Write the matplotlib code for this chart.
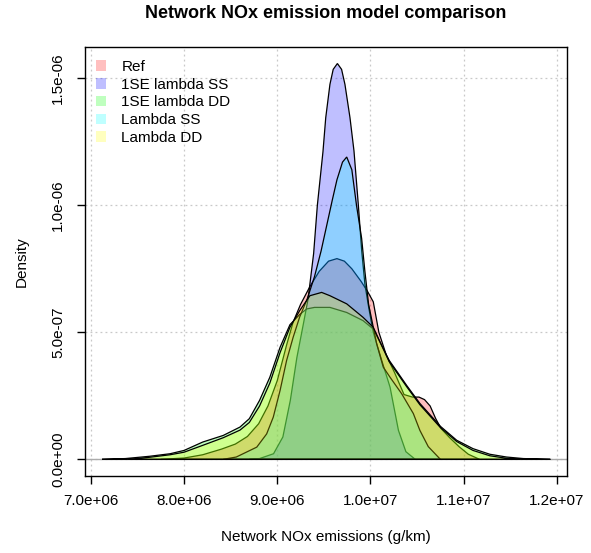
import matplotlib
matplotlib.use('AGG')

import numpy as np
import matplotlib.pyplot as plt
from matplotlib.patches import Patch

plt.rcParams['font.family'] = ['Liberation Sans', 'DejaVu Sans']

# density curves: x in 1e6 g/km, y in 1e-6
ref_x = [7.75, 8.0, 8.2, 8.4, 8.55, 8.68, 8.8, 8.9, 9.0, 9.1, 9.17, 9.25, 9.35, 9.45,
         9.55, 9.64, 9.72, 9.8, 9.9, 9.97, 10.03, 10.09, 10.17, 10.26, 10.36, 10.45,
         10.52, 10.58, 10.64, 10.7, 10.76, 10.85, 10.95, 11.05, 11.17]
ref_y = [0.0, 0.005, 0.018, 0.04, 0.06, 0.09, 0.14, 0.21, 0.31, 0.45, 0.54, 0.61, 0.68, 0.74,
         0.78, 0.79, 0.78, 0.75, 0.70, 0.66, 0.62, 0.50, 0.41, 0.34, 0.255, 0.245,
         0.245, 0.235, 0.21, 0.16, 0.12, 0.085, 0.05, 0.02, 0.0]

ss1_x = [8.70, 8.81, 8.96, 9.06, 9.14, 9.21, 9.28, 9.33, 9.39, 9.43, 9.49, 9.52, 9.565,
         9.60, 9.645, 9.69, 9.726, 9.78, 9.823, 9.87, 9.906, 9.94, 9.98, 10.03, 10.12,
         10.21, 10.30, 10.38, 10.48]
ss1_y = [0.0, 0.003, 0.022, 0.088, 0.232, 0.40, 0.533, 0.63, 0.81, 1.0, 1.21, 1.345, 1.476,
         1.535, 1.558, 1.535, 1.476, 1.345, 1.214, 1.0, 0.82, 0.69, 0.60, 0.50, 0.39,
         0.284, 0.114, 0.03, 0.0]

dd1_x = [7.12, 7.37, 7.63, 7.85, 8.0, 8.2, 8.42, 8.6, 8.7, 8.81, 8.92, 9.03, 9.136, 9.24,
         9.316, 9.40, 9.50, 9.565, 9.745, 9.92, 10.03, 10.2, 10.39, 10.53, 10.75, 10.925,
         11.10, 11.28, 11.46, 11.64, 11.93]
dd1_y = [0.0, 0.003, 0.012, 0.022, 0.035, 0.068, 0.094, 0.127, 0.16, 0.232, 0.323, 0.441,
         0.53, 0.57, 0.592, 0.598, 0.598, 0.598, 0.578, 0.546, 0.513, 0.39, 0.29, 0.22,
         0.13, 0.075, 0.042, 0.02, 0.009, 0.003, 0.0]

ss_x = [8.42, 8.56, 8.78, 8.886, 8.957, 9.03, 9.10, 9.17, 9.24, 9.32, 9.40, 9.47, 9.53,
        9.59, 9.64, 9.70, 9.745, 9.80, 9.85, 9.905, 9.94, 9.98, 10.03, 10.066, 10.137,
        10.21, 10.335, 10.46, 10.53, 10.62, 10.75]
ss_y = [0.0, 0.009, 0.048, 0.10, 0.166, 0.271, 0.389, 0.48, 0.56, 0.63, 0.72, 0.82, 0.92,
        1.02, 1.10, 1.17, 1.19, 1.14, 1.0, 0.87, 0.74, 0.61, 0.52, 0.455, 0.363,
        0.323, 0.258, 0.18, 0.114, 0.05, 0.0]

dd_x = [7.40, 7.63, 7.85, 8.0, 8.2, 8.42, 8.6, 8.7, 8.81, 8.92, 9.03, 9.136, 9.24, 9.35,
        9.476, 9.565, 9.745, 9.92, 10.03, 10.2, 10.39, 10.53, 10.75, 10.925, 11.10,
        11.28, 11.46, 11.6]
dd_y = [0.0, 0.008, 0.018, 0.028, 0.055, 0.085, 0.115, 0.145, 0.21, 0.30, 0.42, 0.52,
        0.585, 0.644, 0.657, 0.644, 0.612, 0.559, 0.52, 0.385, 0.285, 0.215, 0.125,
        0.07, 0.035, 0.014, 0.004, 0.0]

labels = ['Ref', '1SE lambda SS', '1SE lambda DD', 'Lambda SS', 'Lambda DD']
colors = [(1, 0, 0, 0.25), (0, 0, 1, 0.25), (0, 1, 0, 0.25), (0, 1, 1, 0.25), (1, 1, 0, 0.25)]

xticks = [7e6, 8e6, 9e6, 1e7, 1.1e7, 1.2e7]
xticklabels = ['7.0e+06', '8.0e+06', '9.0e+06', '1.0e+07', '1.1e+07', '1.2e+07']
yticks = [0, 5e-7, 1e-6, 1.5e-6]
yticklabels = ['0.0e+00', '5.0e-07', '1.0e-06', '1.5e-06']

curves = [(ref_x, ref_y), (ss1_x, ss1_y), (dd1_x, dd1_y), (ss_x, ss_y), (dd_x, dd_y)]

fig = plt.figure(figsize=(5.91, 5.53), dpi=100)
ax = fig.add_axes([0.1435, 0.140, 0.8166, 0.775])

ax.set_xlim(6.935e6, 1.2113e7)
ax.set_ylim(-0.064e-6, 1.623e-6)

# R style grid + zero line
for xv in xticks:
    ax.axvline(xv, color='#c8c8c8', lw=0.9, ls=(0, (1.5, 2.5)), zorder=0)
for yv in yticks:
    ax.axhline(yv, color='#c8c8c8', lw=0.9, ls=(0, (1.5, 2.5)), zorder=0)
ax.axhline(0, color='#aaaaaa', lw=1.0, zorder=0)

for (cx, cy), col in zip(curves, colors):
    x = np.array(cx) * 1e6
    y = np.array(cy) * 1e-6
    ax.fill(x, y, facecolor=col, edgecolor='black', lw=0.9)

ax.set_xticks(xticks)
ax.set_xticklabels(xticklabels)
ax.set_yticks(yticks)
ax.set_yticklabels(yticklabels, rotation=90, va='center')
ax.tick_params(direction='out', length=6, width=1, labelsize=11, pad=7)
ax.tick_params(axis='y', pad=8)
for s in ax.spines.values():
    s.set_linewidth(1.0)

ax.set_xlabel('Network NOx emissions (g/km)', fontsize=11, labelpad=16)
ax.set_ylabel('Density', fontsize=11, labelpad=16)
ax.set_title('Network NOx emission model comparison', fontsize=13, fontweight='bold', pad=21)

handles = [Patch(facecolor=c, edgecolor='none') for c in colors]
ax.legend(handles, labels, loc='upper left', frameon=False, fontsize=11,
          handlelength=0.7, handleheight=0.7, handletextpad=1.0, labelspacing=0.25,
          borderaxespad=0.3, bbox_to_anchor=(0.0, 0.995))

fig.savefig('out.png', dpi=100)
